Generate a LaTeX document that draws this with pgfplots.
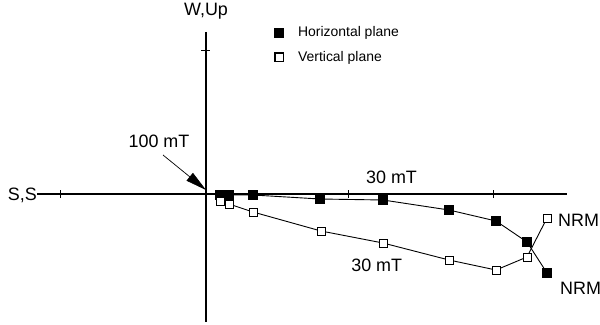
\documentclass[border=0pt]{standalone}
\usepackage{pgfplots}
\pgfplotsset{compat=1.18}
\usepackage{fontspec}
\setmainfont{Liberation Sans}
\usetikzlibrary{arrows.meta}
\begin{document}
\begin{tikzpicture}
\begin{axis}[
  scale only axis, width=600bp, height=324bp,
  xmin=-206, xmax=394, ymin=-130, ymax=194,
  hide axis, clip=false,
  legend style={at={(axis cs:68,167.5)}, anchor=north west, draw=none, fill=none,
    inner sep=0pt, row sep=13bp, font=\fontsize{14}{16}\selectfont,
    nodes={inner sep=0pt},
    /tikz/every odd column/.append style={column sep=14bp}},
  legend cell align=left,
  legend image code/.code={\draw[#1] plot coordinates {(0bp,0bp)}; \path (-4.5bp,-4.5bp) rectangle (4.5bp,4.5bp);},
]
\coordinate (bl) at (axis cs:-206,-130);
\coordinate (tr) at (axis cs:394,194);
% axes
\draw[line width=1.1bp] (axis cs:-169,0) -- (axis cs:361,0);
\draw[line width=1.1bp] (axis cs:0,162) -- (axis cs:0,-128);
\draw[line width=0.8bp] (axis cs:-146,-4) -- (axis cs:-146,4);
\draw[line width=0.8bp] (axis cs:142,-4) -- (axis cs:142,4);
\draw[line width=0.8bp] (axis cs:287,-4) -- (axis cs:287,4);
\draw[line width=0.8bp] (axis cs:-5,144) -- (axis cs:4,144);

% horizontal plane (filled)
\addplot[black, line width=0.9bp, mark=square*, mark size=4.5bp, mark options={solid, fill=black}]
coordinates {(14,-1) (23,-1) (47,-1) (114,-5) (177,-6) (243,-16) (290,-27) (321,-48) (341,-79)};
\addlegendentry{Horizontal plane}
% vertical plane (open)
\addplot[black, line width=0.9bp, mark=square*, mark size=4bp, mark options={solid, fill=white, line width=0.8bp}]
coordinates {(14,-7) (23,-10) (47,-18) (115,-37) (177,-49) (243,-66) (290,-76) (321,-63) (341,-24)};
\addlegendentry{Vertical plane}

% arrow
\draw[line width=0.7bp, -{Triangle[length=21bp,width=10bp]}] (axis cs:-43,39) -- (axis cs:0,4);

% labels
\node[anchor=base, font=\fontsize{18}{20}\selectfont, inner sep=0pt] at (axis cs:0,178) {W,Up};
\node[anchor=base east, font=\fontsize{18}{20}\selectfont, inner sep=0pt] at (axis cs:-169,-6) {S,S};
\node[anchor=base, font=\fontsize{18}{20}\selectfont, inner sep=0pt] at (axis cs:-47,46) {100 mT};
\node[anchor=base, font=\fontsize{18}{20}\selectfont, inner sep=0pt] at (axis cs:185.5,11) {30 mT};
\node[anchor=base, font=\fontsize{18}{20}\selectfont, inner sep=0pt] at (axis cs:170.7,-77.7) {30 mT};
\node[anchor=base west, font=\fontsize{18}{20}\selectfont, inner sep=0pt] at (axis cs:352,-32.7) {NRM};
\node[anchor=base west, font=\fontsize{18}{20}\selectfont, inner sep=0pt] at (axis cs:354,-100) {NRM};
\end{axis}
\pgfresetboundingbox
\path[use as bounding box] (bl) rectangle (tr);
\end{tikzpicture}
\end{document}
